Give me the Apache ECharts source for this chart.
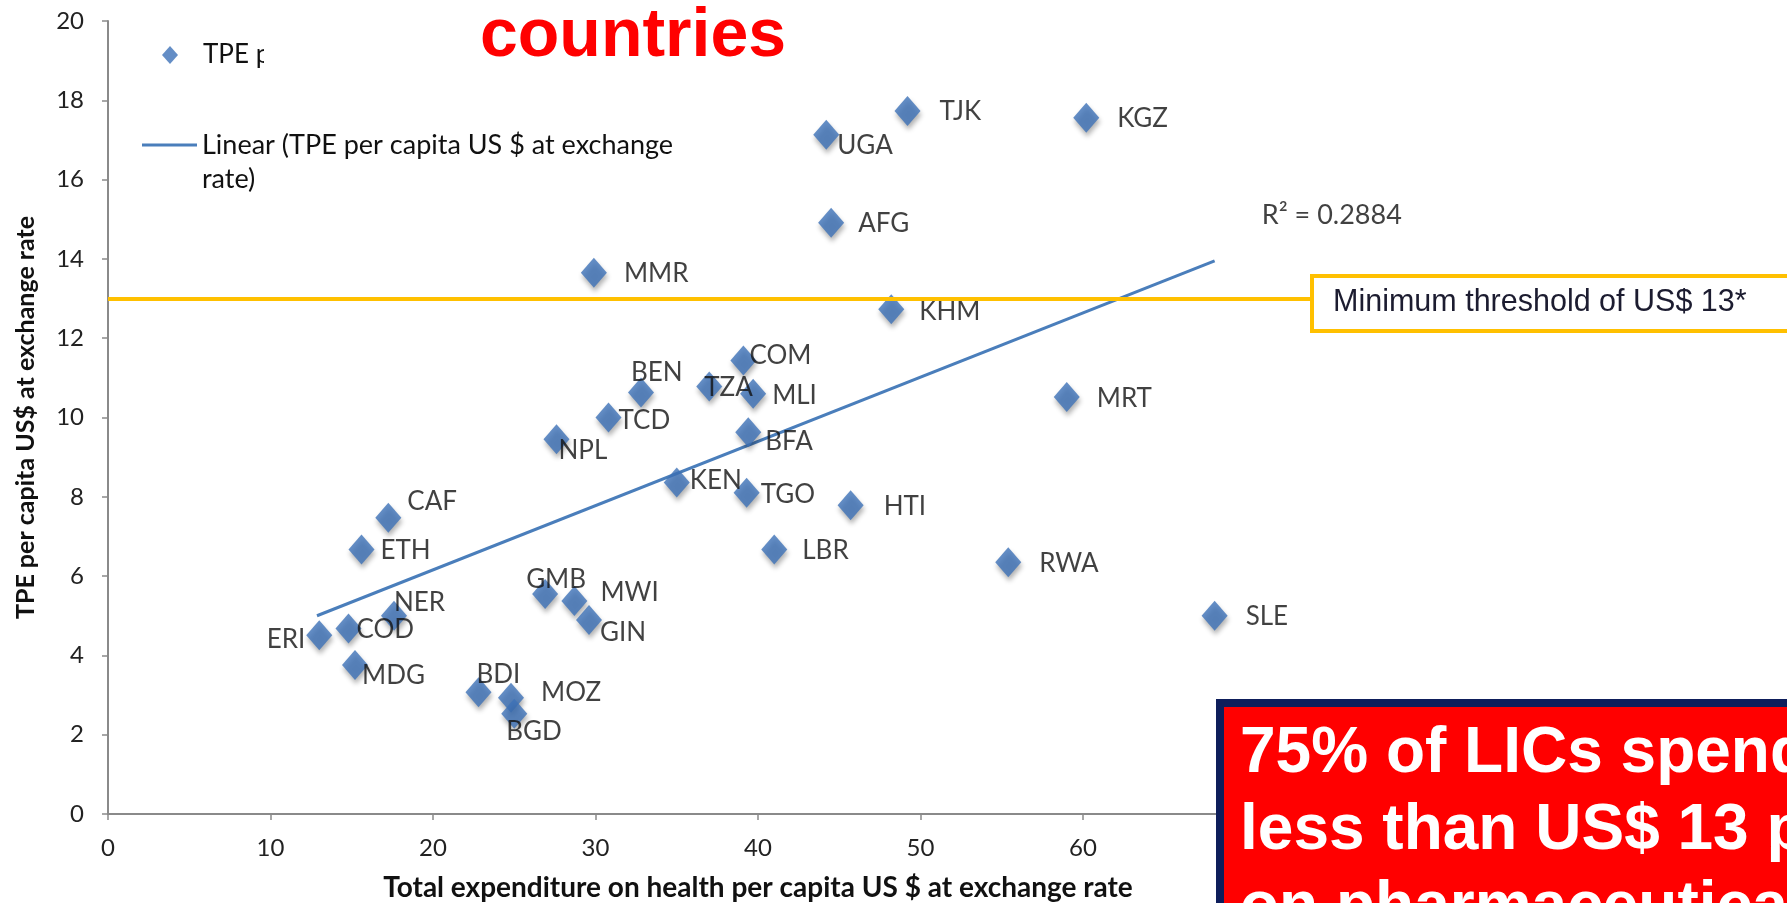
<!DOCTYPE html>
<html>
<head>
<meta charset="utf-8">
<script src="https://cdn.jsdelivr.net/npm/echarts@6/dist/echarts.min.js"></script>
<style>
  html, body { margin: 0; padding: 0; background: #ffffff; }
  #chart { width: 1787px; height: 903px; }
</style>
</head>
<body>
<div id="chart"></div>
<script>
// Country codes (low-income countries)
const countries = ['TJK','KGZ','UGA','AFG','MMR','KHM','COM','BEN','TZA','MLI','TCD','BFA','NPL','MRT','KEN','TGO','HTI','CAF','ETH','LBR','RWA','SLE','GMB','MWI','GIN','NER','COD','ERI','MDG','BDI','MOZ','BGD'];
// Total expenditure on health per capita, US$ at exchange rate
const healthSpend = [49.2, 60.2, 44.2, 44.5, 29.9, 48.2, 39.1, 32.8, 37.0, 39.7, 30.8, 39.4, 27.6, 59.0, 35.0, 39.3, 45.7, 17.25, 15.6, 41.0, 55.4, 68.1, 26.9, 28.7, 29.6, 17.6, 14.8, 13.0, 15.2, 22.8, 24.8, 25.0];
// Total pharmaceutical expenditure (TPE) per capita, US$ at exchange rate
const pharmaSpend = [17.73, 17.56, 17.13, 14.91, 13.65, 12.73, 11.44, 10.63, 10.78, 10.6, 10.0, 9.63, 9.45, 10.52, 8.36, 8.1, 7.79, 7.47, 6.67, 6.67, 6.35, 5.0, 5.55, 5.37, 4.89, 5.0, 4.68, 4.51, 3.76, 3.07, 2.93, 2.53];

// Linear trend line end points and its fit statistic
const trendX = [12.86, 68.1];
const trendY = [5.0, 13.95];
const rSquaredText = 'R\u00B2 = 0.2884';
const rSquaredAt = [71.0, 15.1];

// Minimum spending threshold (US$ 13)
const threshold = 13;
const thresholdEndX = 74.1;

const xAxisRange = [0, 80, 10];
const yAxisRange = [0, 20, 2];

const scatterName = 'TPE per capita US $ at exchange rate';
const trendName = 'Linear (TPE per capita US $ at exchange rate)';

// Label placement per country: [dx, dy] from the marker centre, optional alignment
const labelPlacement = {
  TJK: [32, 1], KGZ: [31, 1], UGA: [11, 11], AFG: [27, 1], MMR: [30, 1], KHM: [28, 2],
  COM: [6, -5], BEN: [-10, -20], TZA: [-5, 1], MLI: [19, 2], TCD: [10, 3], BFA: [17, 9],
  NPL: [2, 11], MRT: [30, 2], KEN: [13, -2], TGO: [14, 2], HTI: [33, 1], CAF: [19, -16],
  ETH: [19, 1], LBR: [28, 1], RWA: [31, 1], SLE: [31, 1], GMB: [-19, -14], MWI: [26, -8],
  GIN: [11, 12], NER: [0, -13], COD: [8, 1], ERI: [-14, 4, 'right'], MDG: [7, 11],
  BDI: [-2, -18], MOZ: [30, -5], BGD: [-8, 18]
};

const uiFont = 'Lato, "Liberation Sans", Arial, sans-serif';
const markerColor = '#3D72B8';
const trendColor = '#4A7EBB';

const points = countries.map((code, i) => {
  const p = labelPlacement[code] || [14, 0];
  return {
    name: code,
    value: [healthSpend[i], pharmaSpend[i]],
    label: { offset: [p[0], p[1]], align: p[2] || 'left' }
  };
});

const chart = echarts.init(document.getElementById('chart'), null, { renderer: 'canvas' });

chart.setOption({
  backgroundColor: '#ffffff',
  animation: false,
  grid: { left: 108, top: 21, right: 379, bottom: 89, containLabel: false, outerBoundsMode: 'none' },
  legend: [
    {
      data: [scatterName],
      orient: 'vertical',
      left: 162, top: 42, padding: 0,
      itemWidth: 16, itemHeight: 18,
      textStyle: { fontFamily: uiFont, fontSize: 26, color: '#111', lineHeight: 18, padding: [0, 0, 0, 20] },
      selectedMode: false
    },
    {
      data: [{ name: trendName, icon: 'rect' }],
      orient: 'vertical',
      left: 142, top: 94, padding: 0,
      itemWidth: 55, itemHeight: 3,
      // first line sits level with the icon, the name wraps onto a second line
      formatter: (name) => '\n' + name.replace(' rate)', '\nrate)'),
      textStyle: { fontFamily: uiFont, fontSize: 27, color: '#111', lineHeight: 34 },
      selectedMode: false
    }
  ],
  xAxis: {
    type: 'value',
    min: xAxisRange[0], max: xAxisRange[1], interval: xAxisRange[2],
    name: 'Total expenditure on health per capita US $ at exchange rate',
    nameLocation: 'middle', nameGap: 60,
    nameTextStyle: { fontFamily: uiFont, fontSize: 28, fontWeight: 'bold', color: '#111' },
    axisLine: { show: true, lineStyle: { color: '#8a8a8a', width: 2 } },
    axisTick: { show: true, inside: false, length: 6, lineStyle: { color: '#8a8a8a', width: 1.5 } },
    axisLabel: { fontFamily: uiFont, fontSize: 24, color: '#222', margin: 22 },
    splitLine: { show: false }
  },
  yAxis: {
    type: 'value',
    min: yAxisRange[0], max: yAxisRange[1], interval: yAxisRange[2],
    name: 'TPE per capita US$ at exchange rate',
    nameLocation: 'middle', nameGap: 70, nameRotate: 90,
    nameTextStyle: { fontFamily: uiFont, fontSize: 25, fontWeight: 'bold', color: '#111' },
    axisLine: { show: true, lineStyle: { color: '#8a8a8a', width: 2 } },
    axisTick: { show: true, inside: false, length: 6, lineStyle: { color: '#8a8a8a', width: 1.5 } },
    axisLabel: { fontFamily: uiFont, fontSize: 24, color: '#222', margin: 24 },
    splitLine: { show: false }
  },
  series: [
    {
      name: trendName,
      type: 'line',
      data: trendX.map((x, i) => [x, trendY[i]]),
      symbol: 'none',
      lineStyle: { color: trendColor, width: 3 },
      itemStyle: { color: trendColor },
      silent: true,
      z: 2,
      markLine: {
        silent: true,
        symbol: ['none', 'none'],
        label: { show: false },
        lineStyle: { color: '#FFC000', width: 4, type: 'solid' },
        data: [[{ coord: [0, threshold] }, { coord: [thresholdEndX, threshold] }]]
      }
    },
    {
      name: scatterName,
      type: 'scatter',
      data: points,
      symbol: 'diamond',
      symbolSize: [26, 30],
      itemStyle: {
        color: markerColor,
        shadowColor: 'rgba(0,0,0,0.38)',
        shadowBlur: 5,
        shadowOffsetX: 1,
        shadowOffsetY: 4
      },
      label: {
        show: true,
        formatter: '{b}',
        position: 'inside',
        verticalAlign: 'middle',
        fontFamily: uiFont,
        fontSize: 26,
        color: '#111'
      },
      z: 3
    },
    {
      name: 'fit',
      type: 'scatter',
      data: [rSquaredAt],
      symbolSize: 0,
      silent: true,
      label: {
        show: true,
        formatter: rSquaredText,
        position: 'inside',
        align: 'left',
        verticalAlign: 'middle',
        fontFamily: uiFont,
        fontSize: 27,
        color: '#111'
      }
    }
  ],
  graphic: [
    // slide title box
    {
      type: 'rect', z: 100,
      shape: { x: 264, y: 0, width: 560, height: 76 },
      style: { fill: '#ffffff' }
    },
    {
      type: 'text', z: 101,
      x: 480, y: 37,
      style: {
        text: 'countries',
        font: 'bold 68px "Liberation Sans", Arial, sans-serif',
        fill: '#FF0000',
        verticalAlign: 'middle'
      }
    },
    // threshold call-out
    {
      type: 'rect', z: 100,
      shape: { x: 1312, y: 276, width: 520, height: 55 },
      style: { fill: '#ffffff', stroke: '#FFC000', lineWidth: 4 }
    },
    {
      type: 'text', z: 101,
      x: 1333, y: 303,
      style: {
        text: 'Minimum threshold of US$ 13*',
        font: '30.5px "Liberation Sans", Arial, sans-serif',
        fill: '#1c1c30',
        verticalAlign: 'middle'
      }
    },
    // key message box
    {
      type: 'rect', z: 100,
      shape: { x: 1220, y: 703, width: 620, height: 260 },
      style: { fill: '#FF0000', stroke: '#0E1E5B', lineWidth: 8 }
    },
    {
      type: 'text', z: 101,
      x: 1240, y: 716,
      style: {
        text: '75% of LICs spend\nless than US$ 13 per capita\non pharmaceuticals',
        font: 'bold 64px "Liberation Sans", Arial, sans-serif',
        lineHeight: 77,
        fill: '#ffffff',
        verticalAlign: 'top'
      }
    }
  ]
});
</script>
</body>
</html>
